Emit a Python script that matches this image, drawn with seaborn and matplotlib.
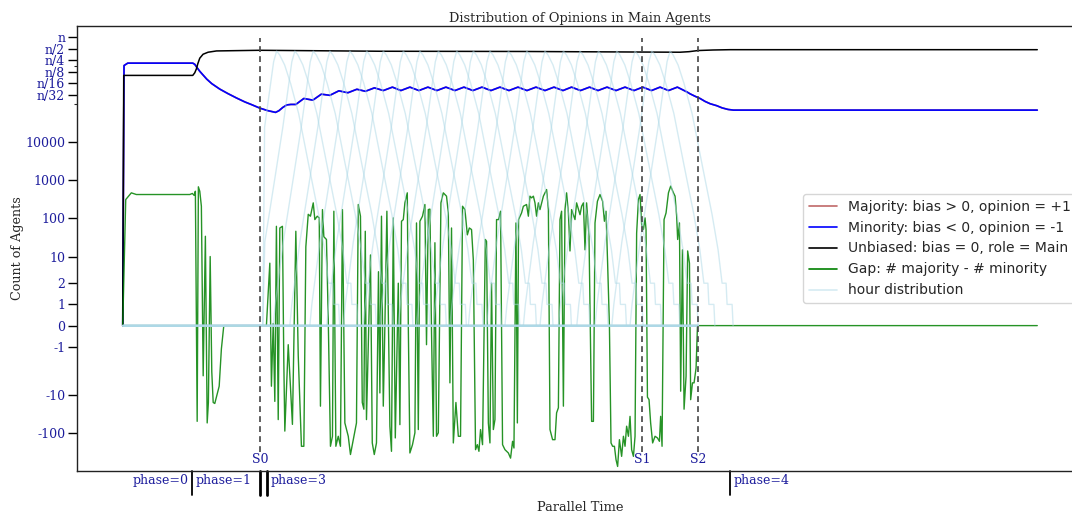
import numpy as np
import pandas as pd
import matplotlib
matplotlib.use("Agg")
import matplotlib.pyplot as plt
from matplotlib.lines import Line2D
import seaborn as sns

# ---------------- data ----------------
N_AGENTS = 5.5e6          # "n" on the y axis

# Unbiased agents (black), fraction of n
unbiased_t = [0, 0.5, 35, 36, 36.85, 37.5, 38.5, 40.15, 42.65, 46.85, 55.15, 68.5, 128.5, 200,
              278.5, 283, 287.5, 295, 303.5, 457]
unbiased_frac = [0, 0.1015, 0.1015, 0.119, 0.152, 0.204, 0.287, 0.364, 0.411, 0.444, 0.451, 0.462,
                 0.436, 0.43, 0.411, 0.425, 0.455, 0.47, 0.479, 0.479]

# Minority agents (blue), fraction of n
minority_t = [0, 0.65, 2.5, 35, 36, 37, 38.5, 40, 42, 44.5, 48.5, 52.5, 56.85, 61, 64.5, 68.5,
              72.5, 76.35, 78, 80, 82, 84, 86.5, 90.5, 95, 99.25, 103.5, 108, 112.5, 117, 121.25,
              125.75, 130.25, 134.75,
              139, 143.5, 148, 152.5, 157, 161.5, 166, 170.5, 175, 179.5, 184, 188.5, 193, 197.5,
              202, 206.5, 211, 215.5, 220, 224.25, 228.75, 233.25, 237.5, 242, 246.5, 251, 255.5,
              259.85, 264.25, 268.5, 272.75, 277.15,
              281.85, 283.5, 286, 288.5, 291, 293.5, 296.85, 299.5, 302.5, 305.15, 457]
minority_frac = [0, 0.184, 0.2127, 0.2127, 0.198, 0.166, 0.130, 0.106, 0.0809, 0.0617, 0.0444,
                 0.0340, 0.0260, 0.0205, 0.0173, 0.0141, 0.0121, 0.0109, 0.0120, 0.0147, 0.0171,
                 0.0176, 0.0176, 0.0252, 0.0228, 0.0327, 0.0305, 0.040, 0.0356, 0.044, 0.0389,
                 0.0478, 0.0407, 0.050,
                 0.0407, 0.050, 0.0407, 0.050, 0.0407, 0.050, 0.0407, 0.050, 0.0407, 0.050, 0.0407,
                 0.050, 0.0407, 0.050, 0.0407, 0.050, 0.0407, 0.050, 0.0407, 0.050, 0.0407, 0.050,
                 0.0407, 0.050, 0.0407, 0.050, 0.0407, 0.050, 0.0407, 0.050, 0.0407, 0.050,
                 0.0376, 0.0334, 0.0288, 0.0252, 0.0211, 0.0184, 0.0163, 0.0143, 0.013, 0.0125,
                 0.0125]

# Majority agents: indistinguishable from the minority curve (hidden underneath it)
majority_t = list(minority_t)
majority_frac = list(minority_frac)

# Gap: # majority - # minority (green)
gap_t = [0, 1.5, 4.3, 6.8, 33.5, 34.8, 35.7, 36.3, 37.2, 37.8, 38.5, 39.3, 40.2, 41.3, 42.2, 42.8,
         43.7, 44.5, 45.2, 46, 46.8, 48.2, 49.3, 50.5, 71.8,
         73.5, 74.3, 75.2, 76, 76.8, 77.7, 78.5, 79.8, 80.5, 81, 82.7, 84.8, 86.5, 87.7, 89.3, 90.5,
         91.5, 92.7, 93.8, 95.2, 96, 97.2, 98.2, 98.8, 99.8, 100.5, 101.8, 102.7, 103.8, 104.8,
         105.5, 106.5, 107.7, 108.8, 109.8, 111, 112.7,
         113.8, 116.8, 117.7, 118.8, 119.7, 120.5, 121.2, 121.8, 123.8, 124.7, 125.7, 126.8, 127.8,
         128.5, 129.3, 130.2, 131, 132, 133.5, 134.3, 135.2, 136.2, 137.7, 138.5, 139.3, 140.2, 141,
         142.2, 142.7, 143.5, 144.8, 146, 146.8, 147.7, 148.5, 149.8, 151, 151.8, 152.7, 153.5,
         154.3, 155.2, 156, 156.8, 157.7, 159, 160.2, 161.8, 162.7, 163.5, 164.3, 165.2, 166.5,
         167.7, 168.8, 169.8, 171, 172.2, 173.2, 174.3, 175.2, 176.3, 177.2, 178, 178.8, 179.8,
         181.2, 181.8, 182.7, 183.5, 184.3, 185.2, 186, 186.8, 187.8, 188.8, 189.8, 191, 192.7,
         193.8, 194.8, 195.5, 196.5, 197.2, 197.8, 199.3, 200.2, 201.8, 202.7, 203.5, 204.3, 205.2,
         206, 206.8, 207.7, 208.5, 210.2, 211.8, 212.7, 213.5, 214.8, 216, 216.8, 217.7, 218.5,
         219.3, 220.2, 221, 221.8, 222.7, 223.5, 224.3, 226, 226.8,
         228.5, 229.3, 230.2, 231, 231.8, 233, 234.3, 235.2, 236, 237.2, 238.5, 239.8, 240.7, 241.5,
         242.3, 243.2, 244, 244.8, 245.7, 246.5, 247.3, 248.2, 249.3, 250.2, 251, 251.8, 252.7,
         253.5, 254.3, 255.2, 256, 256.8, 257.7, 258.5, 259.3, 260.2, 261, 261.5, 262.2, 263,
         263.8, 264.8, 266, 267.2, 268.2, 268.8, 269.5, 270.5, 271.5, 272.7, 273.8, 275.2, 276,
         276.8, 277.3, 278.2, 278.8, 279.7, 280.5, 281.5, 282.3, 283.2, 283.8, 284.7, 285.5, 286.5,
         287.2, 457]
gap_value = [0, 311, 467, 422, 422, 450, 400, 514, -50, 672, 514, 208, -3.2, 34, -55, -16,
             10, -2.5, -16, -17, -11.6, -6, -1.1, 0, 0,
             6.7, -6, 0.1, -15, 62, -45, 56, 62, -1.75, -90, -0.9, -60, 46, -1.4, -225, -225,
             18, 128, 114, 255, 93, 114, 103, -20, 170, 33, 28, 0.3, -225, -123,
             154, -225, -123, -225, 170, -55, -123,
             -370, -55, 231, 114, -16, -24, 46, -45, 11, -184, -370, -184, 4,
             -9, 114, -20, 0, 154, -67, -305, 103, -136, 2, -61, 84, 93, 255,
             467, 0, -337, -204, -100, 76, -82, 84, 114, 231, -0.9, 170, 175,
             -0.3, -123, 23, -123, -100, 255, 467, 382, 139, -4.9, 56, -184, -16,
             -123, -123, 208, 170, 37, 56, 51, 8, -276, -204, -305, -82, -204,
             28, 25, -55, -184, 2, -82, -45, 93, 93, 154, -204, -276, -337,
             -460, -167, -250, 76, -55, 93, 139, 208, 231, 114, 382, 345, 382,
             255, 114, 255, 170, 382, 570, 170, -82, -151, -151, -30, -22, 93,
             154, -20, 170, 467, 139, 14, 170, 93, 255,
             125, 208, 255, 15, 255, 34, -50, -50, 76, 280, 422, 280, 84, 154,
             6.7, 0, -184, -225, -225, -505, -760, -151, -413, -123, -225, -67, -123,
             -37, -276, -413, -123, 41, 311, 422, 70, 51, 103, 51, -11.6, -13.5,
             -55, -184, -123, -136, -167, -37, -225, 93, 139, 467, 700, 467, 382,
             114, 28, 76, -8.1, 15, -24, -3.3, 14, 6.7, -13.5, -4.9, -4.9, -2,
             0, 0]

# Hour distribution: peak time of each hour and the common shape of one hour's curve
hour_peak_t = [76.9, 86.0, 95.2, 103.5, 113.5, 121.9, 130.2, 140.2, 148.5, 157.7, 166.9, 175.2,
               183.5, 192.7, 201.9, 211.0, 220.2, 228.5, 237.7, 246.9, 256.0, 264.4, 273.5]
hour_shape_dt = [-20, -19, -15, -10, -6, -3, -1.5, 0, 1.5, 4, 7, 11, 16, 21, 24, 26, 28, 28.5, 31, 31.5]
hour_shape_count = [0, 1, 24, 1100, 24500, 341000, 1.27e6, 2.42e6, 1.93e6, 1.05e6, 341000, 56000,
                    2600, 126, 15, 2, 2, 1, 1, 0]
hours_start_t = 70.0

# Markers
phase_marker_t = [34.5, 68.5, 72.0, 303.5]
phase_marker_lw = [1.3, 2.0, 2.0, 1.3]
phase_label_text = ["phase=0", "phase=1", "phase=3", "phase=4"]
phase_label_t = [34.5, 34.5, 72.0, 303.5]
phase_label_side = ["left", "right", "right", "right"]
stage_t = [68.5, 259.5, 287.5]
stage_names = ["S0", "S1", "S2"]

ytick_vals = [-100, -10, -1, 0, 1, 2, 10, 100, 1000, 10000,
              N_AGENTS / 32, N_AGENTS / 16, N_AGENTS / 8, N_AGENTS / 4, N_AGENTS / 2, N_AGENTS]
ytick_labels = ["-100", "-10", "-1", "0", "1", "2", "10", "100", "1000", "10000",
                "n/32", "n/16", "n/8", "n/4", "n/2", "n"]

# ---------------- build frames ----------------
df_major = pd.DataFrame({"t": majority_t, "count": np.array(majority_frac) * N_AGENTS})
df_minor = pd.DataFrame({"t": minority_t, "count": np.array(minority_frac) * N_AGENTS})
df_unb = pd.DataFrame({"t": unbiased_t, "count": np.array(unbiased_frac) * N_AGENTS})
df_gap = pd.DataFrame({"t": gap_t, "count": gap_value})

rows = []
for h, peak in enumerate(hour_peak_t):
    pts = [(0.0, 0.0), (hours_start_t, 0.0)]
    for dt, c in zip(hour_shape_dt, hour_shape_count):
        if peak + dt > hours_start_t:
            pts.append((peak + dt, c))
    last = pts[-1][0]
    pts.append((max(last, stage_t[2]), 0.0))
    for t, c in pts:
        rows.append({"hour": h, "t": t, "count": c})
df_hours = pd.DataFrame(rows)

# ---------------- plot ----------------
sns.set_theme(style="ticks")
plt.rcParams["font.family"] = ["DejaVu Serif"]

label_blue = "#1c1c9c"

fig = plt.figure(figsize=(10.72, 5.14), dpi=100)
ax = fig.add_axes([77 / 1072, 1 - 471 / 514, (1083 - 77) / 1072, (471 - 26) / 514])

sns.lineplot(data=df_major, x="t", y="count", ax=ax, color="brown", alpha=0.7, lw=1.2,
             estimator=None, sort=False)
sns.lineplot(data=df_minor, x="t", y="count", ax=ax, color="blue", lw=1.2,
             estimator=None, sort=False)
sns.lineplot(data=df_unb, x="t", y="count", ax=ax, color="black", lw=1.1,
             estimator=None, sort=False)
sns.lineplot(data=df_gap, x="t", y="count", ax=ax, color="green", alpha=0.85, lw=1.0,
             estimator=None, sort=False)
sns.lineplot(data=df_hours, x="t", y="count", units="hour", ax=ax, color="lightblue",
             alpha=0.5, lw=1.0, estimator=None, sort=False)

ax.set_yscale("symlog", linthresh=2, linscale=1)
ax.set_ylim(-1000, 2 * N_AGENTS)
span = max(unbiased_t) - min(unbiased_t)
ax.set_xlim(min(unbiased_t) - 0.05 * span, max(unbiased_t) + 0.05 * span)

ax.set_yticks(ytick_vals)
ax.set_yticklabels(ytick_labels)
ax.set_yticks([1e5, 1e6], minor=True)
ax.tick_params(axis="y", which="major", length=6.5, width=1.0, colors="black",
               labelcolor=label_blue, labelsize=9, pad=2, left=True)
ax.tick_params(axis="y", which="minor", length=2.5, width=0.8, left=True)
ax.set_xticks([])
ax.set_xlabel("")
ax.set_ylabel("Count of Agents", fontsize=9.2, labelpad=0.5)
ax.set_title("Distribution of Opinions in Main Agents", fontsize=9.4, pad=3)

for side in ["left", "top", "bottom", "right"]:
    ax.spines[side].set_color("#222222")
    ax.spines[side].set_linewidth(1.0)

# stage dashed lines and labels
xt = ax.get_xaxis_transform()
for st, nm in zip(stage_t, stage_names):
    ax.vlines(st, 0.042, 0.973, transform=xt, colors="#444444", linestyles=(0, (3.5, 2.5)), lw=1.2)
    ax.text(st, 0.025, nm, transform=xt, ha="center", va="center", fontsize=9, color=label_blue)

# phase markers below the axis
for pt, lw in zip(phase_marker_t, phase_marker_lw):
    ax.add_line(Line2D([pt, pt], [0, -0.055], transform=xt, color="black", lw=lw, clip_on=False))
for txt, pt, side in zip(phase_label_text, phase_label_t, phase_label_side):
    off = 2.5 if side == "right" else -2.5
    ax.annotate(txt, xy=(pt, -0.022), xycoords=xt, xytext=(off, 0), textcoords="offset points",
                ha="left" if side == "right" else "right", va="center", fontsize=9,
                color=label_blue, annotation_clip=False)

ax.text(0.5, -0.083, "Parallel Time", transform=ax.transAxes, ha="center", va="center",
        fontsize=9.4)

handles = [
    Line2D([], [], color="brown", alpha=0.7, lw=1.2),
    Line2D([], [], color="blue", lw=1.2),
    Line2D([], [], color="black", lw=1.2),
    Line2D([], [], color="green", lw=1.2),
    Line2D([], [], color="lightblue", alpha=0.5, lw=1.2),
]
labels = ["Majority: bias > 0, opinion = +1", "Minority: bias < 0, opinion = -1",
          "Unbiased: bias = 0, role = Main", "Gap: # majority - # minority", "hour distribution"]
ax.legend(handles, labels, loc="center right", prop={"family": "DejaVu Sans", "size": 10},
          frameon=True, fancybox=True, framealpha=0.8, edgecolor="#cccccc")

fig.savefig("out.png", dpi=100)
